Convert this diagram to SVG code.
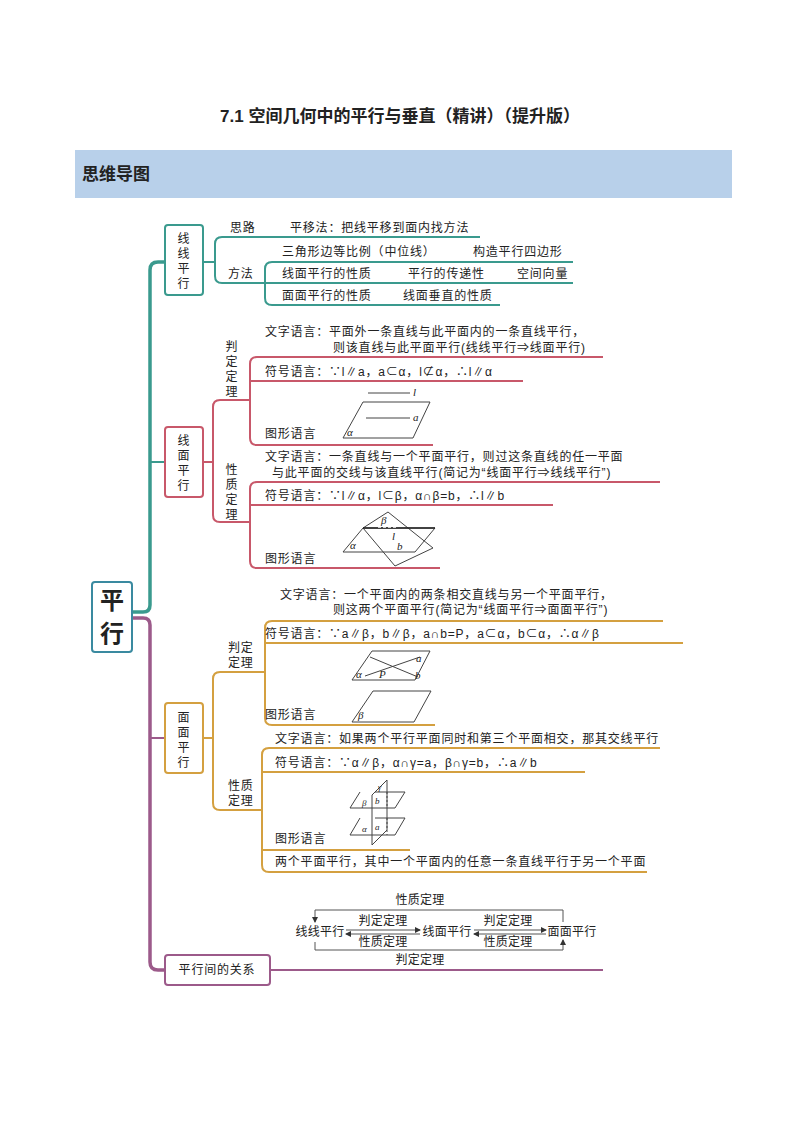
<svg xmlns="http://www.w3.org/2000/svg" width="800" height="1132" viewBox="0 0 800 1132">
<style>
text{font-family:"Liberation Sans","Noto Sans CJK SC",sans-serif;fill:#222;font-size:12px;letter-spacing:0.8px}
.t{stroke:#3a9a8e;stroke-width:2;fill:none}
.r{stroke:#c8586a;stroke-width:2;fill:none}
.g{stroke:#d4a040;stroke-width:2;fill:none}
.p{stroke:#9c5a8a;stroke-width:2;fill:none}
.fig{stroke:#444;stroke-width:1;fill:none}
.box{fill:#fff;stroke-width:2}
.it{font-family:"Liberation Serif",serif;font-style:italic;font-size:11px;letter-spacing:0}
.rel{letter-spacing:0.3px}
</style>
<defs>
<marker id="ah" markerWidth="6" markerHeight="6" refX="5" refY="3" orient="auto"><path d="M0,0L6,3L0,6z" fill="#333"/></marker>
</defs>
<text x="400" y="122" text-anchor="middle" style="font-size:17px;font-weight:bold;letter-spacing:0">7.1  空间几何中的平行与垂直（精讲）（提升版）</text>
<rect x="75" y="150" width="657" height="48" fill="#b8d0ea"/>
<text x="82" y="180" style="font-size:17px;font-weight:bold;letter-spacing:0">思维导图</text>

<g id="connectors">
<path d="M132,612 H143 Q150,612 150,605 V270 Q150,262 158,262 H165" stroke="#3a9a8e" stroke-width="3.5" fill="none"/>
<path d="M150,462 H165" class="t"/>
<path d="M132,618 H143 Q150,618 150,625 V962 Q150,970 158,970 H165" stroke="#9c5a8a" stroke-width="3.5" fill="none"/>
<path d="M150,738 H165" class="p"/>
<path d="M203,262 H215 M480,237 H222 Q215,237 215,244 V276 Q215,283 222,283 H573" class="t"/>
<path d="M573,262 H272 Q265,262 265,269 V298 Q265,305 272,305 H500" class="t"/>
<path d="M203,462 H213 M250,400 H220 Q213,400 213,407 V515 Q213,522 220,522 H250" class="r"/>
<path d="M603,357 H257 Q250,357 250,364 V438 Q250,445 257,445 H433 M250,381 H523" class="r"/>
<path d="M660,482 H257 Q250,482 250,489 V561 Q250,568 257,568 H440 M250,505 H553" class="r"/>
<path d="M203,738 H213 M265,672 H220 Q213,672 213,679 V803 Q213,810 220,810 H262" class="g"/>
<path d="M663,621 H272 Q265,621 265,628 V718 Q265,725 272,725 H435 M265,643 H683" class="g"/>
<path d="M660,748 H269 Q262,748 262,755 V865 Q262,872 269,872 H647 M262,772 H585 M262,850 H410" class="g"/>
<path d="M270,970 H603" class="p"/>
</g>

<g id="n-center"><rect x="92" y="582" width="40" height="70" rx="3" class="box" stroke="#3a8aa0" stroke-width="3"/>
<text x="112" y="609" text-anchor="middle" style="font-size:24px;font-weight:bold;letter-spacing:0">平</text>
<text x="112" y="642" text-anchor="middle" style="font-size:24px;font-weight:bold;letter-spacing:0">行</text></g>

<g id="n-xx"><rect x="165" y="225" width="38" height="70" rx="3" class="box" stroke="#3a9a8e"/>
<text x="184" y="243" text-anchor="middle">线</text><text x="184" y="258" text-anchor="middle">线</text><text x="184" y="273" text-anchor="middle">平</text><text x="184" y="288" text-anchor="middle">行</text>
<text x="230" y="232">思路</text><text x="290" y="232">平移法：把线平移到面内找方法</text>
<text x="228" y="278">方法</text>
<text x="282" y="256">三角形边等比例（中位线）</text><text x="473" y="256">构造平行四边形</text>
<text x="282" y="278">线面平行的性质</text><text x="408" y="278">平行的传递性</text><text x="517" y="278">空间向量</text>
<text x="282" y="300">面面平行的性质</text><text x="403" y="300">线面垂直的性质</text></g>

<g id="n-xm"><rect x="165" y="427" width="38" height="70" rx="3" class="box" stroke="#c8586a"/>
<text x="184" y="445" text-anchor="middle">线</text><text x="184" y="460" text-anchor="middle">面</text><text x="184" y="475" text-anchor="middle">平</text><text x="184" y="490" text-anchor="middle">行</text>
<text x="232" y="351" text-anchor="middle">判</text><text x="232" y="366" text-anchor="middle">定</text><text x="232" y="381" text-anchor="middle">定</text><text x="232" y="396" text-anchor="middle">理</text>
<text x="232" y="474" text-anchor="middle">性</text><text x="232" y="489" text-anchor="middle">质</text><text x="232" y="504" text-anchor="middle">定</text><text x="232" y="519" text-anchor="middle">理</text>
<text x="265" y="336">文字语言：平面外一条直线与此平面内的一条直线平行，</text>
<text x="333" y="352">则该直线与此平面平行(线线平行⇒线面平行)</text>
<text x="265" y="376">符号语言：∵l∥a，a⊂α，l⊄α，∴l∥α</text>
<text x="265" y="438">图形语言</text>
<path d="M368,393H410M363,402H430L413,438H343ZM366,418H410" class="fig"/>
<text x="413" y="396" class="it">l</text><text x="413" y="421" class="it">a</text><text x="347" y="436" class="it">α</text>
<text x="265" y="461">文字语言：一条直线与一个平面平行，则过这条直线的任一平面</text>
<text x="272" y="477">与此平面的交线与该直线平行(简记为“线面平行⇒线线平行”)</text>
<text x="265" y="500">符号语言：∵l∥α，l⊂β，α∩β=b，∴l∥b</text>
<text x="265" y="563">图形语言</text>
<path d="M363,528L343,552H415L435,528ZM388,512L433,548L395,566L363,528Z" class="fig"/>
<path d="M363,528H435" stroke="#222" stroke-width="1.6"/>
<path d="M378,527H398" stroke="#fff" stroke-width="1.6" stroke-dasharray="3,2"/>
<text x="381" y="524" class="it">β</text><text x="392" y="540" class="it">l</text><text x="397" y="550" class="it">b</text><text x="350" y="549" class="it">α</text></g>

<g id="n-mm"><rect x="165" y="703" width="38" height="70" rx="3" class="box" stroke="#d4a040"/>
<text x="184" y="722" text-anchor="middle">面</text><text x="184" y="737" text-anchor="middle">面</text><text x="184" y="752" text-anchor="middle">平</text><text x="184" y="767" text-anchor="middle">行</text>
<text x="228" y="652">判定</text><text x="228" y="667">定理</text>
<text x="228" y="790">性质</text><text x="228" y="805">定理</text>
<text x="280" y="599">文字语言：一个平面内的两条相交直线与另一个平面平行，</text>
<text x="333" y="614">则这两个平面平行(简记为“线面平行⇒面面平行”)</text>
<text x="265" y="638">符号语言：∵a∥β，b∥β，a∩b=P，a⊂α，b⊂α，∴α∥β</text>
<text x="265" y="719">图形语言</text>
<path d="M372,651H430L415,680H352ZM365,676L420,657M370,657L418,677M373,691H431L414,722H352Z" class="fig"/>
<text x="416" y="662" class="it">a</text><text x="356" y="678" class="it">α</text><text x="379" y="678" class="it">P</text><text x="415" y="679" class="it">b</text><text x="358" y="719" class="it">β</text>
<text x="275" y="743">文字语言：如果两个平行平面同时和第三个平面相交，那其交线平行</text>
<text x="275" y="767">符号语言：∵α∥β，α∩γ=a，β∩γ=b，∴a∥b</text>
<text x="275" y="843">图形语言</text>
<path d="M375,792H405L395,808H350L360,792M375,818H405L395,835H350L360,818M372,795L387,780V830M372,795V845L387,830" class="fig"/>
<path d="M387,792V808M387,818V835" class="fig" stroke-dasharray="2,2"/>
<text x="362" y="806" class="it" style="font-size:9px">β</text><text x="375" y="804" class="it" style="font-size:9px">b</text><text x="378" y="790" class="it" style="font-size:8px">γ</text>
<text x="362" y="832" class="it" style="font-size:9px">α</text><text x="375" y="830" class="it" style="font-size:9px">a</text>
<text x="275" y="866">两个平面平行，其中一个平面内的任意一条直线平行于另一个平面</text></g>

<g id="n-rel"><rect x="165" y="955" width="105" height="30" rx="3" class="box" stroke="#9c5a8a"/>
<text x="217" y="974" text-anchor="middle">平行间的关系</text>
<text x="420" y="904" text-anchor="middle" class="rel">性质定理</text>
<path d="M563,922V910H315V922" fill="none" stroke="#555" marker-end="url(#ah)"/>
<path d="M315,942V950H563V940" fill="none" stroke="#555" marker-end="url(#ah)"/>
<text x="320" y="936" text-anchor="middle" class="rel">线线平行</text>
<text x="383" y="925" text-anchor="middle" class="rel">判定定理</text>
<path d="M346,930H420" stroke="#555" marker-end="url(#ah)"/><path d="M420,934H346" stroke="#555" marker-end="url(#ah)"/>
<text x="383" y="946" text-anchor="middle" class="rel">性质定理</text>
<text x="447" y="936" text-anchor="middle" class="rel">线面平行</text>
<text x="508" y="925" text-anchor="middle" class="rel">判定定理</text>
<path d="M474,930H546" stroke="#555" marker-end="url(#ah)"/><path d="M546,934H474" stroke="#555" marker-end="url(#ah)"/>
<text x="508" y="946" text-anchor="middle" class="rel">性质定理</text>
<text x="572" y="936" text-anchor="middle" class="rel">面面平行</text>
<text x="420" y="964" text-anchor="middle" class="rel">判定定理</text></g>
</svg>
